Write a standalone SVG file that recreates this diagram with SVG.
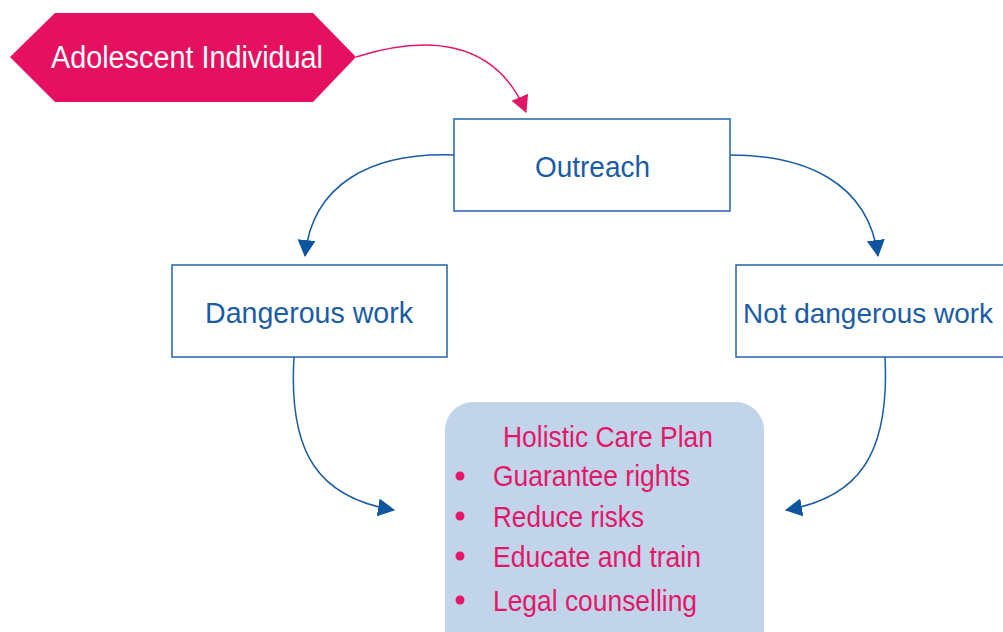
<svg xmlns="http://www.w3.org/2000/svg" width="1003" height="632" viewBox="0 0 1003 632">
<style>
.box{fill:#fff;stroke:#2563a9;stroke-width:1.5}
.bt{font-family:"Liberation Sans",Arial,sans-serif;font-size:30px;fill:#1b5ca6}
.pt{font-family:"Liberation Sans",Arial,sans-serif;font-size:29px;fill:#e3176a}
.con{fill:none;stroke:#1b5ca6;stroke-width:1.5}
</style>
<defs>
<marker id="ab" markerUnits="userSpaceOnUse" markerWidth="20" markerHeight="20" refX="16" refY="9" orient="auto">
<path d="M0,0 L17,9 L0,18 Z" fill="#0e559f"/>
</marker>
<marker id="ap" markerUnits="userSpaceOnUse" markerWidth="20" markerHeight="20" refX="16" refY="9" orient="auto">
<path d="M0,0 L17,9 L0,18 Z" fill="#e3176a"/>
</marker>
</defs>
<rect width="1003" height="632" fill="#fff"/>
<g id="connectors">
<path d="M356,57 C425,35 495,38 526,112" fill="none" stroke="#e3176a" stroke-width="1.5" marker-end="url(#ap)"/>
<path class="con" d="M454,155 C370,152 312,185 305,256" marker-end="url(#ab)"/>
<path class="con" d="M730,155 C805,155 868,182 878,256" marker-end="url(#ab)"/>
<path class="con" d="M294,357 C288,455 320,498 394,510" marker-end="url(#ab)"/>
<path class="con" d="M885,357 C890,455 858,498 786,510" marker-end="url(#ab)"/>
</g>
<g id="adolescent">
<polygon points="10,57 55,13 313,13 356,57 313,102 55,102" fill="#e5105f"/>
<text x="51" y="68" font-family="Liberation Sans,Arial,sans-serif" font-size="31" fill="#fff" textLength="272" lengthAdjust="spacingAndGlyphs">Adolescent Individual</text>
</g>
<g id="outreach">
<rect class="box" x="454" y="119" width="276" height="92"/>
<text class="bt" x="535" y="177" textLength="115" lengthAdjust="spacingAndGlyphs">Outreach</text>
</g>
<g id="dangerous">
<rect class="box" x="172" y="265" width="275" height="92"/>
<text class="bt" x="205" y="323" textLength="208" lengthAdjust="spacingAndGlyphs">Dangerous work</text>
</g>
<g id="notdangerous">
<rect class="box" x="736" y="265" width="280" height="92"/>
<text class="bt" x="743" y="323" font-size="28" style="font-size:28px" textLength="250" lengthAdjust="spacingAndGlyphs">Not dangerous work</text>
</g>
<g id="careplan">
<rect x="445" y="402" width="319" height="260" rx="28" ry="28" fill="#c1d4e9"/>
<text class="pt" x="503" y="447" textLength="210" lengthAdjust="spacingAndGlyphs">Holistic Care Plan</text>
<g fill="#e3176a">
<circle cx="460" cy="476" r="4.5"/>
<circle cx="460" cy="516" r="4.5"/>
<circle cx="460" cy="556" r="4.5"/>
<circle cx="460" cy="600" r="4.5"/>
</g>
<text class="pt" x="493" y="486" textLength="197" lengthAdjust="spacingAndGlyphs">Guarantee rights</text>
<text class="pt" x="493" y="527" textLength="151" lengthAdjust="spacingAndGlyphs">Reduce risks</text>
<text class="pt" x="493" y="567" textLength="208" lengthAdjust="spacingAndGlyphs">Educate and train</text>
<text class="pt" x="493" y="611" textLength="204" lengthAdjust="spacingAndGlyphs">Legal counselling</text>
</g>
</svg>
